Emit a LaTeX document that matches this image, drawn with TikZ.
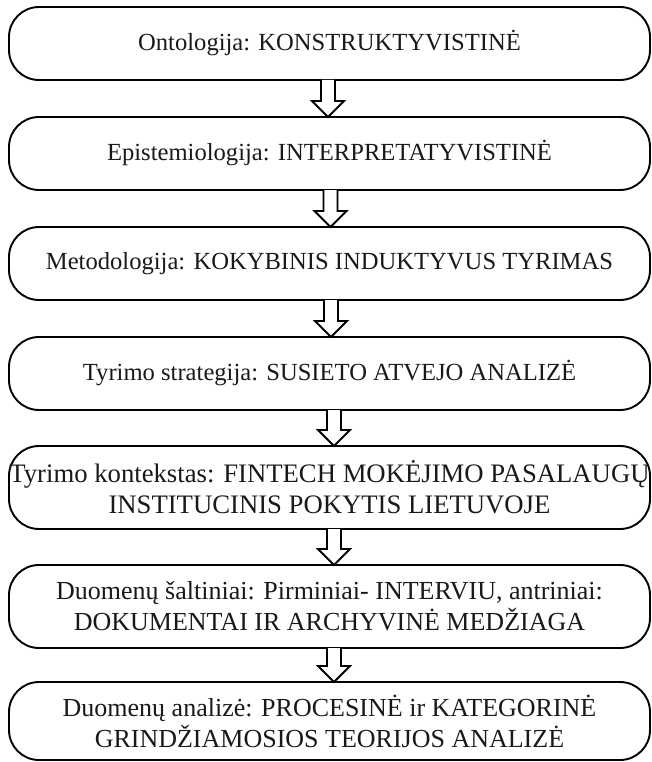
\documentclass[tikz,border=0pt]{standalone}
\usepackage{fontspec}
\setmainfont{Liberation Serif}
\usetikzlibrary{calc}

\tikzset{
  stagebox/.style={draw, line width=1.9pt, rounded corners=30pt, inner sep=0pt,
    outer sep=0pt, minimum width=641pt, align=center, text=black!90,
    font=\fontsize{24.6}{30}\selectfont},
  widetext/.style={font=\fontsize{#1}{31}\selectfont},
  flowarrow/.style={draw, line width=1.8pt, fill=white, line join=miter},
}

% hollow block arrow from the bottom of #1 to the top of #2, shifted by #3
\newcommand\flowarrow[3]{%
  \draw[flowarrow] ($(#1.south)+(#3-7,0)$) -- ($(#2.north)+(#3-7,-16)$)
    -- ($(#2.north)+(#3-16,-16)$) -- ($(#2.north)+(#3,0)$)
    -- ($(#2.north)+(#3+16,-16)$) -- ($(#2.north)+(#3+7,-16)$)
    -- ($(#1.south)+(#3+7,0)$);}

\begin{document}
\begin{tikzpicture}[x=1pt, y=-1pt]
  \useasboundingbox (0,0) rectangle (652,762);

  \node[stagebox, minimum height=73pt] (b1) at (329.5,43.5)
    {Ontologija: KONSTRUKTYVISTINĖ};
  \node[stagebox, minimum height=73pt] (b2) at (329.5,153.5)
    {Epistemiologija: INTERPRETATYVISTINĖ};
  \node[stagebox, minimum height=73pt] (b3) at (329.5,263.5)
    {Metodologija: KOKYBINIS INDUKTYVUS TYRIMAS};
  \node[stagebox, minimum height=73pt] (b4) at (329.5,373.5)
    {Tyrimo strategija: SUSIETO ATVEJO ANALIZĖ};
  \node[stagebox, widetext=26.7, minimum height=83pt] (b5) at (329.5,487.5)
    {Tyrimo kontekstas: FINTECH MOKĖJIMO PASALAUGŲ\\INSTITUCINIS POKYTIS LIETUVOJE};
  \node[stagebox, widetext=26, minimum height=83pt] (b6) at (329.5,606.5)
    {Duomenų šaltiniai: Pirminiai- INTERVIU, antriniai:\\DOKUMENTAI IR ARCHYVINĖ MEDŽIAGA};
  \node[stagebox, widetext=26, minimum height=78pt] (b7) at (329.5,721)
    {Duomenų analizė: PROCESINĖ ir KATEGORINĖ\\GRINDŽIAMOSIOS TEORIJOS ANALIZĖ};

  \flowarrow{b1}{b2}{-1.5}
  \flowarrow{b2}{b3}{1}
  \flowarrow{b3}{b4}{1.5}
  \flowarrow{b4}{b5}{4.5}
  \flowarrow{b5}{b6}{4.5}
  \flowarrow{b6}{b7}{4.5}
\end{tikzpicture}
\end{document}
